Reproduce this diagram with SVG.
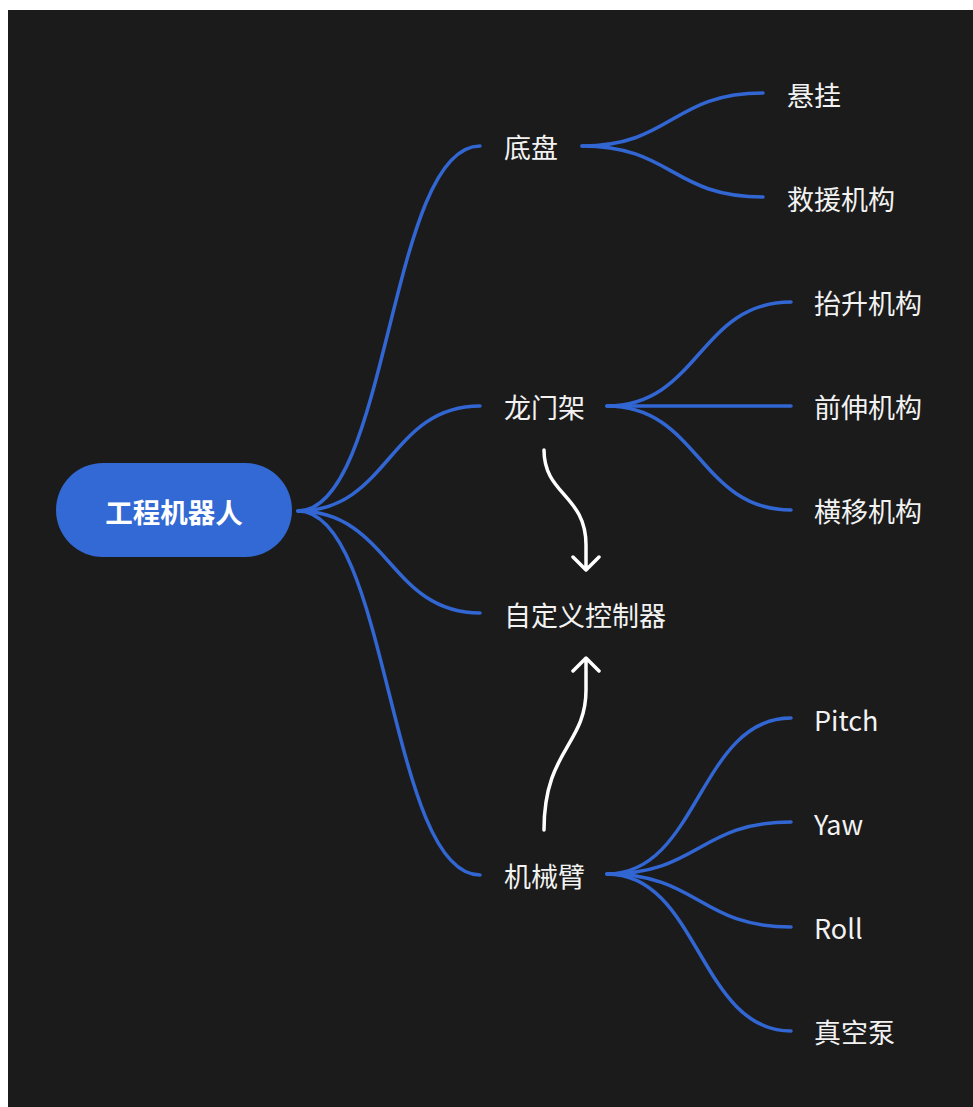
<svg xmlns="http://www.w3.org/2000/svg" width="973" height="1107" viewBox="0 0 973 1107">
<defs>
<style>
.bg{fill:#1b1b1b}
.ln{fill:none;stroke:#3166d3;stroke-width:3.5;stroke-linecap:round}
.ar{fill:none;stroke:#ffffff;stroke-width:3.5;stroke-linecap:round;stroke-linejoin:round}
.t{font-family:"Noto Sans CJK SC","Noto Sans",sans-serif;font-size:27px;fill:#f2f2f2}
.root{font-family:"Noto Sans CJK SC","Noto Sans",sans-serif;font-size:27.5px;font-weight:bold;fill:#ffffff}
</style>
</defs>
<rect x="0" y="0" width="973" height="1107" fill="#ffffff"/>
<rect class="bg" x="8" y="10" width="965" height="1097"/>
<g id="connectors">
<path class="ln" d="M298,511 C389,511 389,146 480,146"/>
<path class="ln" d="M298,511 C389,511 389,406 480,406"/>
<path class="ln" d="M298,511 C389,511 389,613 480,613"/>
<path class="ln" d="M298,511 C389,511 389,875 480,875"/>
<path class="ln" d="M582,146 C672,146 672,93 763,93"/>
<path class="ln" d="M582,146 C672,146 672,197 763,197"/>
<path class="ln" d="M607,406 C699,406 699,302 791,302"/>
<path class="ln" d="M607,406 L791,406"/>
<path class="ln" d="M607,406 C699,406 699,510 791,510"/>
<path class="ln" d="M607,874 C699,874 699,718 791,718"/>
<path class="ln" d="M607,874 C699,874 699,822 791,822"/>
<path class="ln" d="M607,874 C699,874 699,927 791,927"/>
<path class="ln" d="M607,874 C699,874 699,1031 791,1031"/>
<path class="ar" d="M544,450 C544,495 586,495 586,545 L586,569 M573,557 L586,570 L599,557"/>
<path class="ar" d="M544,830 C544,750 586,745 586,690 L586,659 M573,671 L586,658 L599,671"/>
</g>
<g id="root">
<rect x="56" y="463" width="236" height="94" rx="47" fill="#3269d4"/>
<text class="root" x="174" y="523" text-anchor="middle">工程机器人</text>
</g>
<g id="n-dipan"><text class="t" x="504" y="158">底盘</text></g>
<g id="n-xuangua"><text class="t" x="787" y="106">悬挂</text></g>
<g id="n-jiuyuan"><text class="t" x="787" y="210">救援机构</text></g>
<g id="n-longmenjia"><text class="t" x="504" y="418">龙门架</text></g>
<g id="n-taisheng"><text class="t" x="814" y="314">抬升机构</text></g>
<g id="n-qianshen"><text class="t" x="814" y="418">前伸机构</text></g>
<g id="n-hengyi"><text class="t" x="814" y="522">横移机构</text></g>
<g id="n-zidingyi"><text class="t" x="504" y="626">自定义控制器</text></g>
<g id="n-jixiebi"><text class="t" x="504" y="887">机械臂</text></g>
<g id="n-pitch"><text class="t" x="814" y="731">Pitch</text></g>
<g id="n-yaw"><text class="t" x="814" y="835">Yaw</text></g>
<g id="n-roll"><text class="t" x="814" y="939">Roll</text></g>
<g id="n-zhenkong"><text class="t" x="814" y="1043">真空泵</text></g>
</svg>
